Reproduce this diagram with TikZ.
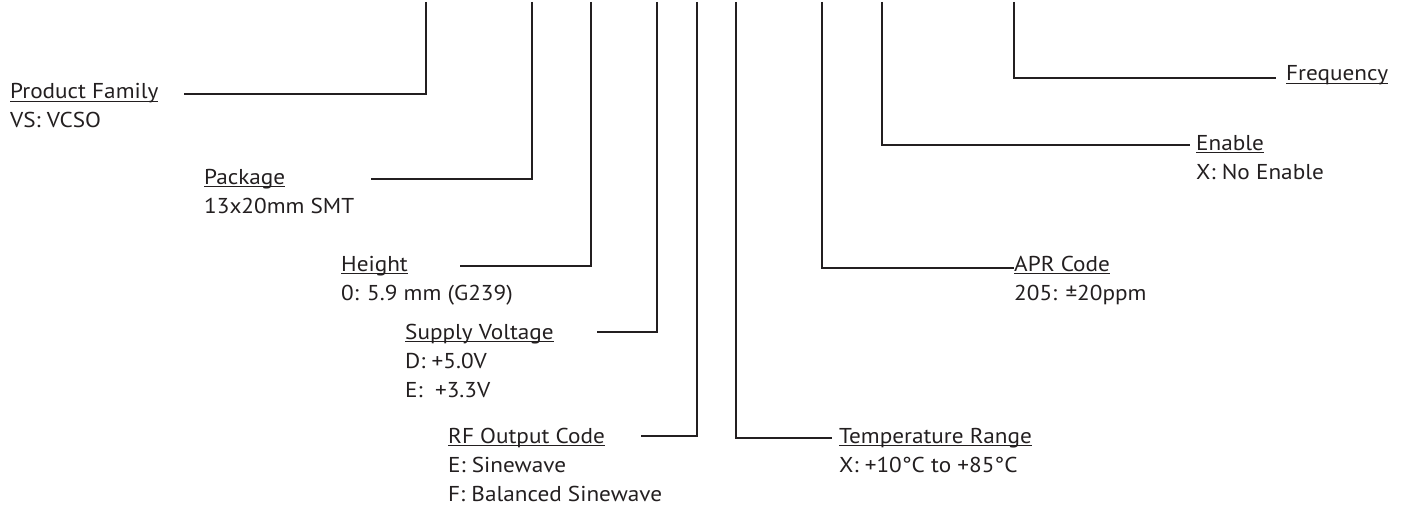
\documentclass[tikz,border=0pt]{standalone}
\usepackage{fontspec}
\setmainfont[FakeStretch=1.08]{PT Sans}
\definecolor{ink}{HTML}{231F20}
\newcommand\ulbox[1]{\setbox0=\hbox{#1}\rlap{\rule[-3pt]{\wd0}{1.1pt}}\box0}
\tikzset{
  lbl/.style={anchor=base west, inner sep=0pt, text=ink, font=\fontsize{21.5}{26}\selectfont},
  conn/.style={draw=ink, line width=2.2pt, line join=miter}
}
\begin{document}
\begin{tikzpicture}[x=1pt,y=-1pt]
\useasboundingbox (0,0) rectangle (1408,508);
% labels
\node[lbl] (pf)  at (10,99)  {\ulbox{Product Family}};
\node[lbl] (pf1) at (10,128) {VS: VCSO};
\node[lbl] (pk)  at (204,184) {\ulbox{Package}};
\node[lbl] (pk1) at (204,213) {13x20mm SMT};
\node[lbl] (ht)  at (341,271) {\ulbox{Height}};
\node[lbl] (ht1) at (341,300) {0: 5.9 mm (G239)};
\node[lbl] (sv)  at (405,339) {\ulbox{Supply Voltage}};
\node[lbl] (sv1) at (405,368) {D: +5.0V};
\node[lbl] (sv2) at (405,397) {E: \ +3.3V};
\node[lbl] (rf)  at (448,443) {\ulbox{RF Output Code}};
\node[lbl] (rf1) at (448,472) {E: Sinewave};
\node[lbl] (rf2) at (448,501) {F: Balanced Sinewave};
\node[lbl] (tr)  at (839,443) {\ulbox{Temperature Range}};
\node[lbl] (tr1) at (839,472) {X: +10°C to +85°C};
\node[lbl] (apr) at (1014,271) {\ulbox{APR Code}};
\node[lbl] (apr1) at (1014,300) {205: ±20ppm};
\node[lbl] (en)  at (1196,150) {\ulbox{Enable}};
\node[lbl] (en1) at (1196,179) {X: No Enable};
\node[lbl] (fq)  at (1286,81) {\ulbox{Frequency}};
% top ends of the leader lines
\coordinate (t1) at (426,2);
\coordinate (t2) at (532,2);
\coordinate (t3) at (591,2);
\coordinate (t4) at (657,2);
\coordinate (t5) at (697,2);
\coordinate (t6) at (736,2);
\coordinate (t7) at (822,2);
\coordinate (t8) at (882,2);
\coordinate (t9) at (1014,2);
% free ends next to the labels
\coordinate (e1) at (184,94);
\coordinate (e2) at (371,179);
\coordinate (e3) at (460,266);
\coordinate (e4) at (597,332);
\coordinate (e5) at (641,436);
\coordinate (e6) at (832,438);
\coordinate (e7) at (1014,268);
\coordinate (e8) at (1190,145);
\coordinate (e9) at (1276,78);
\draw[conn] (t1) |- (e1);
\draw[conn] (t2) |- (e2);
\draw[conn] (t3) |- (e3);
\draw[conn] (t4) |- (e4);
\draw[conn] (t5) |- (e5);
\draw[conn] (t6) |- (e6);
\draw[conn] (t7) |- (e7);
\draw[conn] (t8) |- (e8);
\draw[conn] (t9) |- (e9);
\end{tikzpicture}
\end{document}
